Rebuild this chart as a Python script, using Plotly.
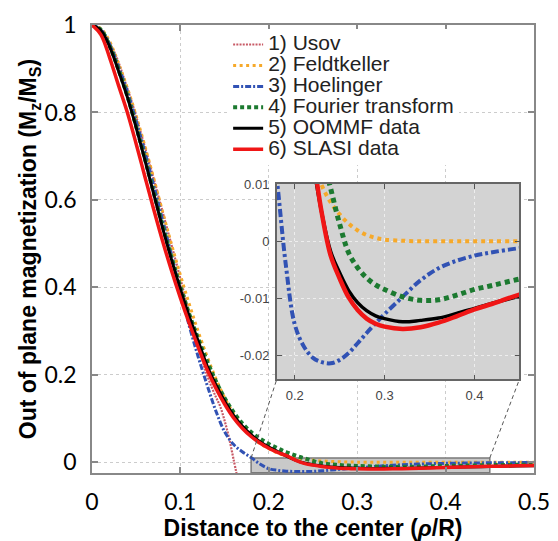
import plotly.graph_objects as go

# ---------------- data ----------------
rho = [0.00, 0.01, 0.02, 0.03, 0.04, 0.05, 0.06, 0.07, 0.08, 0.09,
       0.10, 0.11, 0.12, 0.13, 0.14, 0.15, 0.16, 0.17, 0.18, 0.19,
       0.20, 0.21, 0.22, 0.23, 0.24, 0.25, 0.26, 0.27, 0.28, 0.29,
       0.30, 0.32, 0.34, 0.36, 0.38, 0.40, 0.42, 0.45, 0.48, 0.50]

usov_rho = [0.00, 0.02, 0.04, 0.06, 0.08, 0.10, 0.11, 0.12, 0.13, 0.14,
            0.145, 0.15, 0.155, 0.16, 0.165]
usov = [1.000, 0.958, 0.855, 0.720, 0.572, 0.420, 0.340, 0.268, 0.200, 0.150,
        0.128, 0.095, 0.056, 0.008, -0.040]

feldtkeller = [1.000, 0.992, 0.962, 0.912, 0.856, 0.792, 0.722, 0.648, 0.572, 0.498,
               0.428, 0.362, 0.300, 0.243, 0.192, 0.148, 0.112, 0.083, 0.060, 0.043,
               0.031, 0.021, 0.0145, 0.0098, 0.0068, 0.0047, 0.0031, 0.0019, 0.0011, 0.0006,
               0.0003, 0.0001, 0.0, 0.0, 0.0, 0.0, 0.0, 0.0, 0.0, 0.0]

hoelinger = [1.000, 0.990, 0.956, 0.905, 0.848, 0.781, 0.708, 0.632, 0.553, 0.473,
             0.392, 0.312, 0.242, 0.178, 0.118, 0.070, 0.041, 0.024, 0.0110, -0.0040,
             -0.0145, -0.0183, -0.0203, -0.0211, -0.0213, -0.0207, -0.0195, -0.0178, -0.0160, -0.0143,
             -0.0127, -0.0097, -0.0068, -0.0047, -0.0034, -0.0025, -0.0019, -0.0012, -0.0008, -0.0006]

fourier = [1.000, 0.989, 0.952, 0.898, 0.838, 0.768, 0.693, 0.616, 0.540, 0.468,
           0.401, 0.339, 0.283, 0.232, 0.186, 0.147, 0.115, 0.089, 0.069, 0.054,
           0.042, 0.032, 0.023, 0.0155, 0.0092, 0.0030, -0.0020, -0.0046, -0.0064, -0.0076,
           -0.0084, -0.0097, -0.0103, -0.0102, -0.0094, -0.0084, -0.0077, -0.0066, -0.0058, -0.0053]

oommf = [1.000, 0.988, 0.950, 0.895, 0.835, 0.765, 0.690, 0.612, 0.535, 0.463,
         0.396, 0.334, 0.278, 0.222, 0.178, 0.140, 0.108, 0.083, 0.063, 0.047,
         0.035, 0.0245, 0.0140, 0.0050, -0.0018, -0.0055, -0.0086, -0.0107, -0.0121, -0.0130,
         -0.0135, -0.01405, -0.0138, -0.0134, -0.0126, -0.0117, -0.0108, -0.0096, -0.0085, -0.0078]

slasi = [1.000, 0.978, 0.925, 0.862, 0.800, 0.728, 0.652, 0.577, 0.505, 0.438,
         0.376, 0.318, 0.264, 0.213, 0.170, 0.133, 0.102, 0.078, 0.059, 0.044,
         0.032, 0.0225, 0.0150, 0.0050, -0.0025, -0.0065, -0.0098, -0.0120, -0.0135, -0.0144,
         -0.0149, -0.0153, -0.0150, -0.0142, -0.0131, -0.0119, -0.0109, -0.0093, -0.0080, -0.0072]

names = ["1) Usov", "2) Feldtkeller", "3) Hoelinger", "4) Fourier transform",
         "5) OOMMF data", "6) SLASI data"]

x_tickvals = [0, 0.1, 0.2, 0.3, 0.4, 0.5]
x_ticktext = ["0", "0.1", "0.2", "0.3", "0.4", "0.5"]
y_tickvals = [0, 0.2, 0.4, 0.6, 0.8, 1]
y_ticktext = ["0", "0.2", "0.4", "0.6", "0.8", "1"]
inset_xtickvals = [0.2, 0.3, 0.4]
inset_xticktext = ["0.2", "0.3", "0.4"]
inset_ytickvals = [-0.02, -0.01, 0, 0.01]
inset_yticktext = ["-0.02", "-0.01", "0", "0.01"]

# ---------------- layout constants ----------------
X_RANGE = [0, 0.5]
Y_RANGE = [-0.0245, 1]
INSET_X = [0.18, 0.45]
INSET_Y = [-0.0241, 0.01]
INSET_DOM_X = [0.418, 0.967]
INSET_DOM_Y = [0.209, 0.645]

series = [
    (usov_rho, usov, dict(color="#c85a66", dash="2px,1.2px", w=2.2, wi=2.5)),
    (rho, feldtkeller, dict(color="#f6a92a", dash="3px,3.5px", w=3, wi=4, dashi="4px,4px")),
    (rho, hoelinger, dict(color="#3152b4", dash="6px,2px,2px,2px", w=3, wi=4, dashi="8px,3px,3px,3px")),
    (rho, fourier, dict(color="#1c7a30", dash="4px,3px", w=4, wi=5, dashi="5px,4px")),
    (rho, oommf, dict(color="#000000", dash="solid", w=3, wi=3.5)),
    (rho, slasi, dict(color="#f01616", dash="solid", w=3.5, wi=4.5)),
]

fig = go.Figure()
for name, (xs, ys, st) in zip(names, series):
    fig.add_trace(go.Scatter(
        x=xs, y=ys, mode="lines", line_shape="spline",
        name='<span style="font-size:21px">' + name + '</span>',
        line=dict(color=st["color"], dash=st["dash"], width=st["w"]),
        xaxis="x", yaxis="y"))
for name, (xs, ys, st) in zip(names, series):
    fig.add_trace(go.Scatter(
        x=xs, y=ys, mode="lines", line_shape="spline", showlegend=False,
        line=dict(color=st["color"], dash=st.get("dashi", st["dash"]), width=st["wi"]),
        xaxis="x2", yaxis="y2"))

# inset corners expressed in main-axis coordinates
def main_x(f):
    return X_RANGE[0] + f * (X_RANGE[1] - X_RANGE[0])

def main_y(f):
    return Y_RANGE[0] + f * (Y_RANGE[1] - Y_RANGE[0])

shapes = [
    dict(type="rect", xref="x", yref="y", x0=INSET_X[0], x1=INSET_X[1],
         y0=INSET_Y[0], y1=INSET_Y[1], fillcolor="#c9c9c9",
         line=dict(color="#7a7a7a", width=1.5), layer="between"),
    dict(type="rect", xref="x2", yref="y2", x0=INSET_X[0], x1=INSET_X[1],
         y0=INSET_Y[0], y1=INSET_Y[1], fillcolor="#d3d3d3",
         line=dict(width=0), layer="below"),
    dict(type="line", xref="x", yref="y", x0=INSET_X[0], y0=INSET_Y[1],
         x1=main_x(INSET_DOM_X[0]), y1=main_y(INSET_DOM_Y[0]),
         line=dict(color="#555555", width=1, dash="4px,3px"), layer="above"),
    dict(type="line", xref="x", yref="y", x0=INSET_X[1], y0=INSET_Y[1],
         x1=main_x(INSET_DOM_X[1]), y1=main_y(INSET_DOM_Y[0]),
         line=dict(color="#555555", width=1, dash="4px,3px"), layer="above"),
]

title_font = dict(family="Liberation Sans, Arial, sans-serif", size=23, color="black")
tick_font = dict(family="Lato, sans-serif", size=23, color="black")
inset_font = dict(family="Liberation Sans, Arial, sans-serif", size=13, color="#444444")

fig.update_layout(
    width=558, height=541,
    margin=dict(l=92, r=24, t=25, b=68, autoexpand=False),
    paper_bgcolor="white", plot_bgcolor="white",
    showlegend=True,
    legend=dict(x=0.308, y=0.991, xanchor="left", yanchor="top",
                bgcolor="white", borderwidth=0,
                font=dict(family="Liberation Sans, Arial, sans-serif", size=13.8, color="#222222"),
                itemwidth=30),
    shapes=shapes,
    xaxis=dict(domain=[0, 1], range=X_RANGE, anchor="y", automargin=False,
               tickvals=x_tickvals, ticktext=x_ticktext, tickfont=tick_font,
               ticks="inside", ticklen=6, tickwidth=1.5, tickcolor="#888888",
               showline=True, linecolor="#888888", linewidth=1.5, mirror="ticks",
               showgrid=True, gridcolor="#cccccc", griddash="dot", gridwidth=1,
               zeroline=False, ticklabelstandoff=8,
               title=dict(text="<b>Distance to the center (<i>ρ</i>/R)</b>",
                          font=title_font, standoff=0)),
    yaxis=dict(domain=[0, 1], range=Y_RANGE, anchor="x", automargin=False,
               tickvals=y_tickvals, ticktext=y_ticktext, tickfont=tick_font,
               ticks="inside", ticklen=6, tickwidth=1.5, tickcolor="#888888",
               showline=True, linecolor="#888888", linewidth=1.5, mirror="ticks",
               showgrid=True, gridcolor="#cccccc", griddash="dot", gridwidth=1,
               zeroline=False, ticklabelstandoff=9,
               title=dict(text="<b>Out of plane magnetization (M<sub>z</sub>/M<sub>S</sub>)</b>",
                          font=title_font, standoff=1)),
    xaxis2=dict(domain=INSET_DOM_X, range=INSET_X, anchor="y2", automargin=False,
                tickvals=inset_xtickvals, ticktext=inset_xticktext, tickfont=inset_font,
                ticks="inside", ticklen=5, tickwidth=1.2, tickcolor="#555555",
                showline=True, linecolor="#666666", linewidth=1.5, mirror="ticks",
                showgrid=True, gridcolor="#eeeeee", griddash="dot", gridwidth=1,
                zeroline=False, ticklabelstandoff=3),
    yaxis2=dict(domain=INSET_DOM_Y, range=INSET_Y, anchor="x2", automargin=False,
                tickvals=inset_ytickvals, ticktext=inset_yticktext, tickfont=inset_font,
                ticks="inside", ticklen=5, tickwidth=1.2, tickcolor="#555555",
                showline=True, linecolor="#666666", linewidth=1.5, mirror="ticks",
                showgrid=True, gridcolor="#eeeeee", griddash="dot", gridwidth=1,
                zeroline=False, ticklabelstandoff=3),
)

fig.write_html("out.html", config={"displayModeBar": False},
               post_script="document.body.style.margin='0px';")
